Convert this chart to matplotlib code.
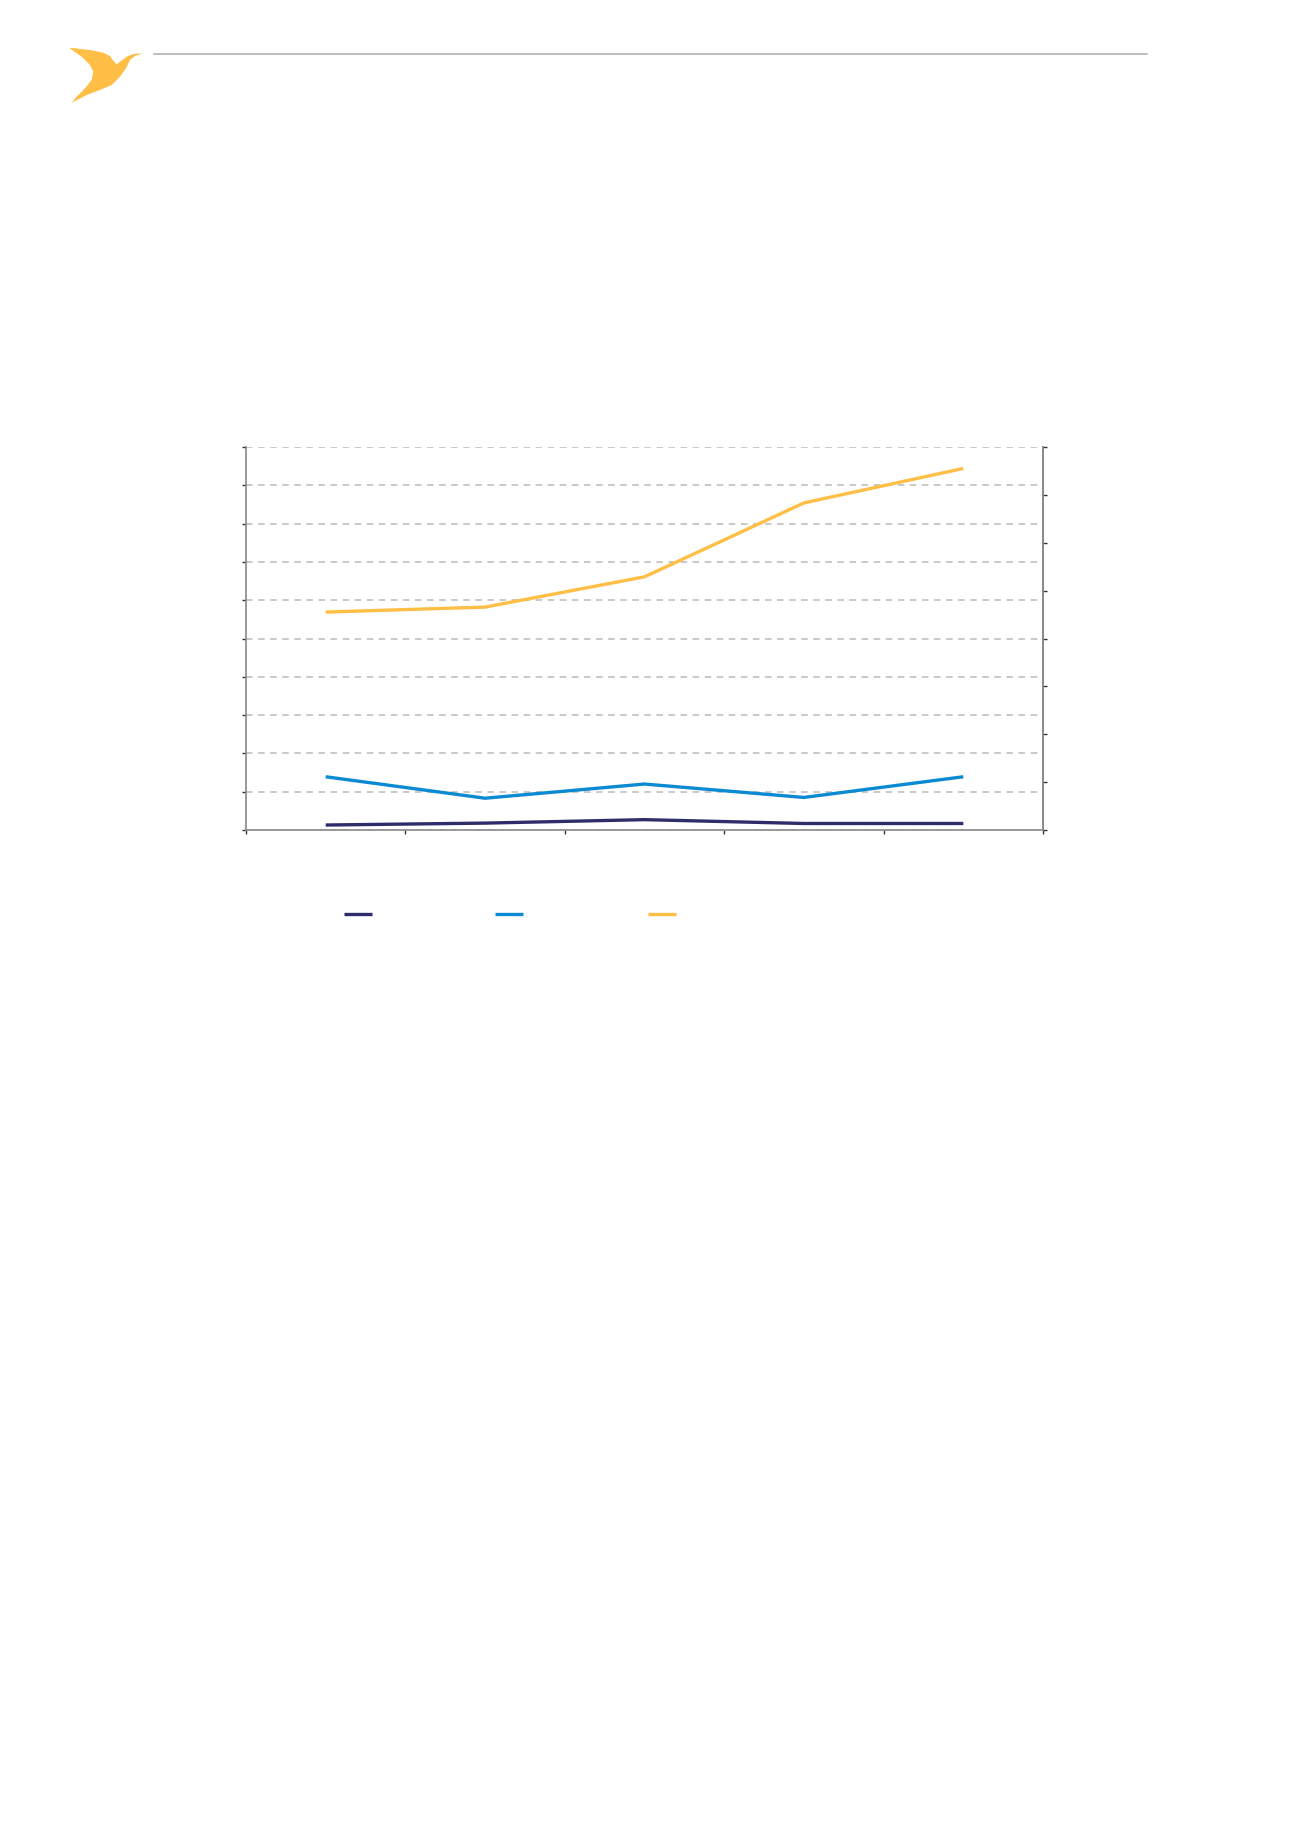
import matplotlib
matplotlib.use("Agg")
from matplotlib import pyplot as plt
from matplotlib.patches import Polygon
from matplotlib.lines import Line2D
import numpy as np

# data (left axis, one unit per gridline)
categories = ["", "", "", "", ""]
series_dark = [0.13, 0.18, 0.27, 0.17, 0.17]
series_blue = [1.39, 0.83, 1.20, 0.85, 1.39]
series_orange = [5.69, 5.82, 6.61, 8.54, 9.44]
series_labels = ["", "", ""]
colors = ["#2E2D6B", "#0A8AD2", "#FFBE45"]

W, H = 1300, 1839
fig = plt.figure(figsize=(W / 100, H / 100), dpi=100)

def fx(px):
    return px / W

def fy(py):
    return 1 - py / H

# logo (bird) in the top-left corner
bird = [(69, 47.7), (90, 50), (103.3, 52.7), (110, 56), (114, 61.7), (116.7, 64.3),
        (120, 61.7), (126.7, 56.7), (133.3, 54), (142.7, 53.3), (135, 56), (130, 60),
        (126, 68.3), (120, 76.7), (111.7, 85), (100, 90), (86.7, 95), (71.7, 102.7),
        (76.7, 96.7), (85, 88.3), (91.7, 80), (93.3, 71.7), (90, 65), (81.7, 56.7)]
fig.add_artist(Polygon([(fx(a), fy(b)) for a, b in bird], closed=True,
                       transform=fig.transFigure, facecolor="#FFBE45", edgecolor="none"))
# header rule
fig.add_artist(Line2D([fx(154), fx(1147)], [fy(54), fy(54)], transform=fig.transFigure,
                      color="#AAAAAA", linewidth=1.1))

# chart
left, right, top, bottom = 246, 1043, 447, 830
ax = fig.add_axes([fx(left), fy(bottom), fx(right - left), (bottom - top) / H])
x = np.arange(len(categories)) + 0.5

ax.plot(x, series_dark, color=colors[0], linewidth=2.4, solid_capstyle="butt", zorder=3)
ax.plot(x, series_blue, color=colors[1], linewidth=2.4, solid_capstyle="butt", zorder=3)
ax.plot(x, series_orange, color=colors[2], linewidth=2.4, solid_capstyle="butt", zorder=3)

ax.set_xlim(0, len(categories))
ax.set_ylim(0, 10)
ax.set_xticks(np.arange(len(categories) + 1))
ax.set_yticks(np.arange(0, 11))
ax.set_xticklabels([])
ax.set_yticklabels([])
ax.yaxis.grid(True, color="#BBBBBB", linestyle=(0, (4.3, 3.6)), linewidth=1.1)
ax.set_axisbelow(True)
ax.tick_params(axis="both", direction="out", length=3, width=1, color="#333333")
for s in ["left", "bottom", "right"]:
    ax.spines[s].set_color("#888888")
    ax.spines[s].set_linewidth(1.2)
ax.spines["top"].set_visible(False)

ax2 = ax.twinx()
ax2.set_ylim(0, 8)
ax2.set_yticks(np.arange(0, 9))
ax2.set_yticklabels([])
ax2.tick_params(axis="y", direction="out", length=3, width=1, color="#333333")
for s in ["left", "bottom", "top"]:
    ax2.spines[s].set_visible(False)
ax2.spines["right"].set_color("#888888")
ax2.spines["right"].set_linewidth(1.2)

# legend keys below the chart
key_x = [344, 495, 648]
for kx, c, lab in zip(key_x, colors, series_labels):
    fig.add_artist(Line2D([fx(kx), fx(kx + 28)], [fy(914), fy(914)],
                          transform=fig.transFigure, color=c, linewidth=2.4,
                          solid_capstyle="butt", label=lab))

fig.savefig("out.png", dpi=100)
